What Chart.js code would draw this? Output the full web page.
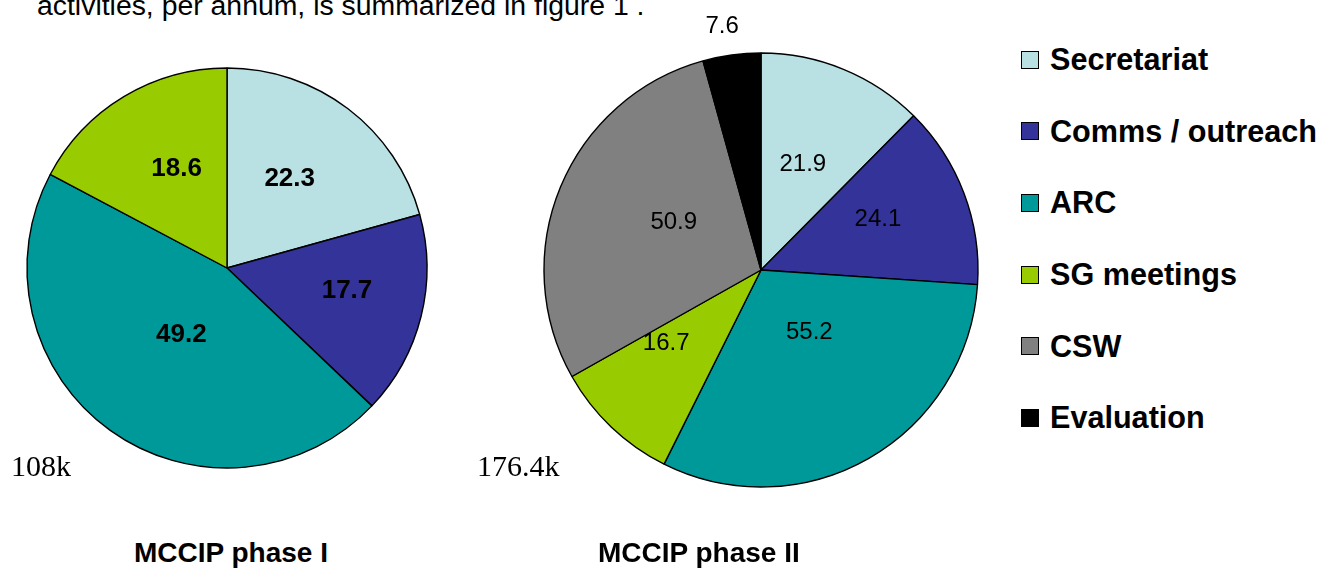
<!DOCTYPE html>
<html>
<head>
<meta charset="utf-8">
<script src="https://cdn.jsdelivr.net/npm/chart.js@4.4.1/dist/chart.umd.min.js"></script>
<style>
  html, body { margin: 0; padding: 0; background: #fff; }
  body { width: 1322px; height: 570px; position: relative; overflow: hidden; font-family: "Liberation Sans", Arial, sans-serif; }
  canvas { position: absolute; top: 0; }
  .txt { position: absolute; white-space: nowrap; color: #000; line-height: 1; }
  .intro { left: 37px; top: -9px; font-size: 28.4px; }
  .title { top: 539px; font-size: 28px; font-weight: bold; }
  .total { top: 451px; font-size: 30px; font-family: "Liberation Serif", "Times New Roman", serif; }
  #legend { position: absolute; left: 1021px; top: 24px; }
  #legend .item { height: 71.6px; display: flex; align-items: center; font-size: 30.6px; font-weight: bold; }
  #legend .box { width: 16px; height: 16px; border: 1px solid #000; margin-right: 11px; flex: none; }
</style>
</head>
<body>

<div class="txt intro">activities, per annum, is summarized in figure 1 .</div>

<canvas id="pie1" width="454" height="536" style="left:0px"></canvas>
<canvas id="pie2" width="460" height="540" style="left:531px"></canvas>

<div class="txt total" style="left:11px">108k</div>
<div class="txt total" style="left:477px">176.4k</div>

<div class="txt title" style="left:134px">MCCIP phase I</div>
<div class="txt title" style="left:598px">MCCIP phase II</div>

<div id="legend"></div>

<script>
// categories and values (k per annum)
const categories = ['Secretariat', 'Comms / outreach', 'ARC', 'SG meetings', 'CSW', 'Evaluation'];
const colors = ['#B9E0E3', '#333399', '#009999', '#99CC00', '#808080', '#000000'];

const phase1Values = [22.3, 17.7, 49.2, 18.6];
const phase2Values = [21.9, 24.1, 55.2, 16.7, 50.9, 7.6];

const chartTitles = ['MCCIP phase I', 'MCCIP phase II'];
const totalLabels = ['108k', '176.4k'];

// where each value label sits: fraction of radius, and turn (degrees) from slice middle
const phase1LabelRadius = [0.55, 0.61, 0.40, 0.56];
const phase1LabelTurn = [-2.5, -3.6, -1, 4.3];
const phase2LabelRadius = [0.53, 0.59, 0.36, 0.55, 0.46, 1.14];
const phase2LabelTurn = [-1, -3.3, -8.4, 9, 6.5, -1.3];

// draws the number on each slice
const sliceLabels = {
  id: 'sliceLabels',
  afterDatasetsDraw(chart, args, opts) {
    const ctx = chart.ctx;
    const meta = chart.getDatasetMeta(0);
    const values = chart.data.datasets[0].data;
    ctx.save();
    ctx.font = opts.font;
    ctx.fillStyle = '#000';
    ctx.textAlign = 'center';
    ctx.textBaseline = 'middle';
    meta.data.forEach((arc, i) => {
      const a = (arc.startAngle + arc.endAngle) / 2 + opts.turn[i] * Math.PI / 180;
      const r = arc.outerRadius * opts.radius[i];
      ctx.fillText(values[i].toFixed(1), arc.x + Math.cos(a) * r, arc.y + Math.sin(a) * r + 1);
    });
    ctx.restore();
  }
};

function makePie(id, values, radius, font, labelRadius, labelTurn) {
  return new Chart(document.getElementById(id), {
    type: 'pie',
    data: {
      labels: categories.slice(0, values.length),
      datasets: [{
        data: values,
        backgroundColor: colors.slice(0, values.length),
        borderColor: '#000',
        borderWidth: 1.4
      }]
    },
    options: {
      responsive: false,
      animation: false,
      devicePixelRatio: 1,
      radius: radius,
      layout: { padding: 0 },
      plugins: {
        legend: { display: false },
        tooltip: { enabled: false },
        sliceLabels: { font: font, radius: labelRadius, turn: labelTurn }
      }
    },
    plugins: [sliceLabels]
  });
}

makePie('pie1', phase1Values, 200, 'bold 26px "Liberation Sans", Arial, sans-serif', phase1LabelRadius, phase1LabelTurn);
makePie('pie2', phase2Values, 217, '24px "Liberation Sans", Arial, sans-serif', phase2LabelRadius, phase2LabelTurn);

// legend on the right
const legend = document.getElementById('legend');
legend.innerHTML = categories.map((c, i) =>
  `<div class="item"><span class="box" style="background:${colors[i]}"></span><span>${c}</span></div>`
).join('');
</script>
</body>
</html>
